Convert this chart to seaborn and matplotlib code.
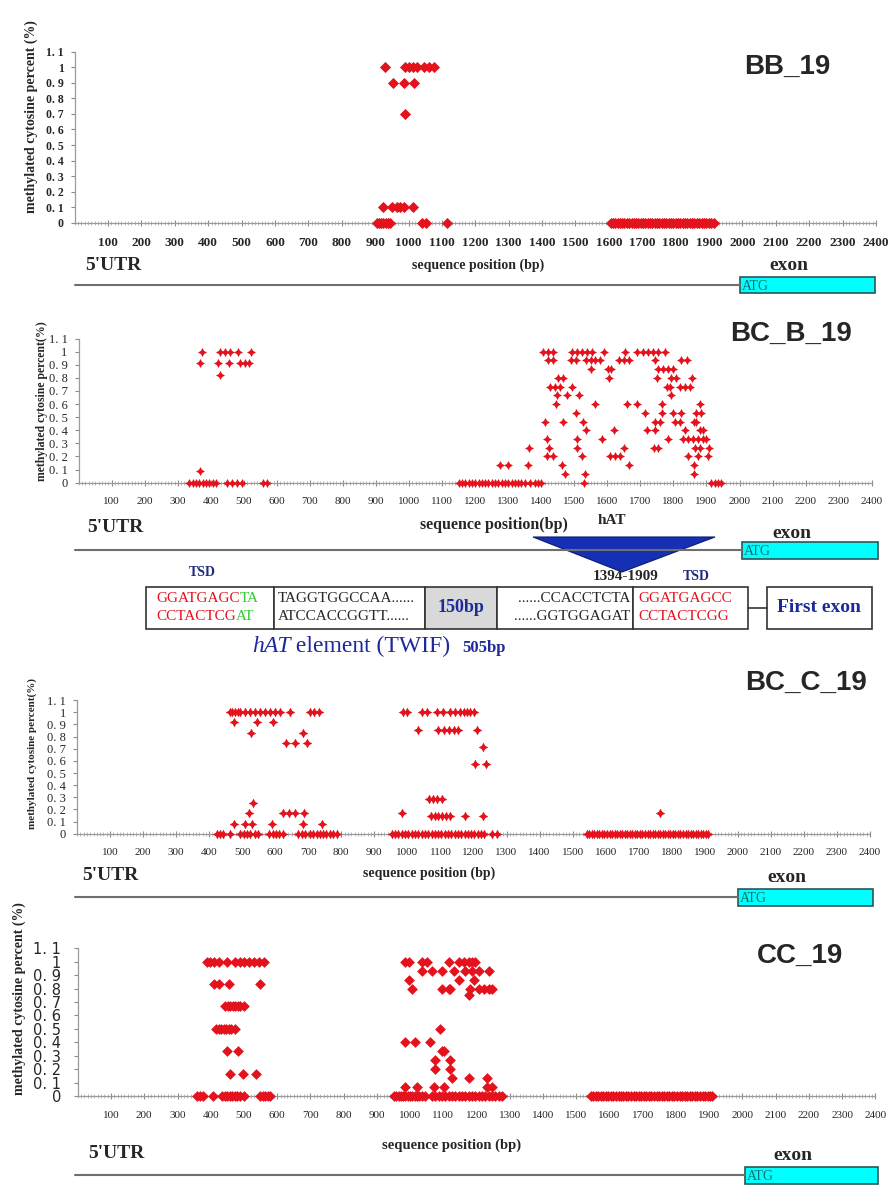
import matplotlib
matplotlib.use('Agg')
import matplotlib.pyplot as plt
from matplotlib.patches import Rectangle, Polygon
from matplotlib.ticker import MultipleLocator
import pandas as pd
import seaborn as sns

# methylation level -> CpG positions (bp)

bb19 = {
    1.0: [930, 990, 1000, 1012, 1025, 1045, 1060, 1075],
    0.9: [955, 985, 1015],
    0.7: [990],
    0.1: [924, 951, 966, 975, 985, 1012],
    0.0: [905, 912, 918, 925, 932, 940, 946, 1040, 1052, 1116,
          1605, 1611, 1619, 1626, 1632, 1640, 1646, 1653, 1660, 1668, 1674, 1681,
          1688, 1695, 1702, 1709, 1716, 1722, 1730, 1737, 1744, 1750, 1758, 1765,
          1771, 1779, 1786, 1792, 1800, 1807, 1814, 1821, 1828, 1835, 1842, 1849,
          1856, 1864, 1870, 1878, 1885, 1892, 1899, 1907, 1915],
}

bcb19 = {
    1.0: [372, 428, 443, 458, 483, 521,
          1406, 1419, 1434, 1494, 1509, 1524, 1539, 1554, 1589, 1654, 1689, 1709,
          1724, 1739, 1754, 1774],
    0.933: [1419, 1434, 1489, 1504, 1534, 1549, 1564, 1579, 1634, 1649, 1664, 1744,
            1822, 1842],
    0.91: [367, 423, 456, 488, 504, 514],
    0.867: [1551, 1601, 1612, 1754, 1769, 1784, 1799],
    0.82: [428],
    0.8: [1451, 1466, 1604, 1751, 1794, 1809, 1857],
    0.733: [1426, 1442, 1456, 1494, 1779, 1791, 1819, 1834, 1849],
    0.667: [1449, 1479, 1514, 1794],
    0.6: [1444, 1564, 1659, 1691, 1764, 1879],
    0.533: [1504, 1714, 1764, 1799, 1824, 1869, 1884],
    0.467: [1412, 1466, 1526, 1744, 1759, 1804, 1819, 1861, 1869],
    0.4: [1536, 1619, 1719, 1744, 1834, 1879, 1889],
    0.333: [1416, 1507, 1584, 1782, 1829, 1844, 1859, 1874, 1889, 1899],
    0.267: [1364, 1422, 1507, 1649, 1742, 1754, 1864, 1879, 1909],
    0.2: [1416, 1434, 1524, 1609, 1624, 1639, 1844, 1874, 1906],
    0.133: [1276, 1299, 1359, 1462, 1664, 1862],
    0.09: [367],
    0.067: [1472, 1531, 1862],
    0.0: [335, 345, 355, 365, 375, 385, 395, 405, 415, 448, 463, 478, 494, 559, 569,
          1150, 1160, 1170, 1180, 1190, 1200, 1210, 1220, 1230, 1240, 1250, 1260,
          1270, 1280, 1290, 1300, 1310, 1320, 1330, 1340, 1350, 1365, 1380, 1390,
          1400, 1530, 1915, 1925, 1935, 1945],
}

bcc19 = {
    1.0: [463, 470, 478, 486, 494, 509, 524, 539, 554, 569, 584, 599, 614, 645, 705,
          718, 731, 988, 998, 1043, 1058, 1089, 1109, 1129, 1144, 1159, 1170, 1180,
          1189, 1200],
    0.917: [476, 544, 592],
    0.857: [1033, 1094, 1110, 1125, 1140, 1154, 1210],
    0.833: [526, 683],
    0.75: [633, 660, 695],
    0.714: [1230],
    0.571: [1205, 1238],
    0.286: [1066, 1078, 1090, 1104],
    0.25: [532],
    0.167: [520, 623, 643, 660, 687, 983, 1765],
    0.143: [1070, 1082, 1094, 1106, 1118, 1130, 1175, 1228],
    0.083: [476, 507, 531, 589, 685, 741],
    0.0: [423, 433, 443, 463, 494, 504, 514, 524, 539, 549, 582, 592, 602, 612, 624,
          670, 680, 690, 705, 715, 725, 735, 745, 755, 766, 776, 786,
          953, 963, 973, 983, 993, 1003, 1013, 1023, 1033, 1043, 1053, 1063, 1073,
          1083, 1093, 1103, 1113, 1123, 1133, 1143, 1153, 1163, 1173, 1183, 1193,
          1203, 1213, 1223, 1233, 1255, 1270,
          1543, 1550, 1558, 1566, 1573, 1581, 1589, 1596, 1604, 1612, 1619, 1627,
          1635, 1642, 1650, 1658, 1665, 1673, 1681, 1688, 1696, 1704, 1711, 1719,
          1727, 1734, 1742, 1750, 1757, 1765, 1773, 1780, 1788, 1796, 1803, 1811,
          1819, 1826, 1834, 1842, 1849, 1857, 1865, 1872, 1880, 1888, 1895, 1903,
          1911],
}

cc19 = {
    1.0: [388, 398, 409, 424, 449, 474, 489, 500, 514, 529, 544, 559,
          986, 996, 1036, 1051, 1116, 1146, 1161, 1176, 1186, 1195],
    0.933: [1036, 1066, 1096, 1131, 1166, 1186, 1206, 1236],
    0.867: [996, 1146, 1191],
    0.833: [409, 424, 454, 549],
    0.8: [1006, 1096, 1116, 1121, 1181, 1206, 1221, 1236, 1246],
    0.75: [1176],
    0.667: [444, 452, 459, 466, 474, 481, 489, 499],
    0.5: [417, 424, 431, 439, 447, 454, 461, 474, 1091],
    0.4: [986, 1016, 1061],
    0.333: [449, 481, 1096, 1101],
    0.267: [1076, 1121],
    0.2: [1076, 1121],
    0.167: [457, 496, 537],
    0.133: [1126, 1176, 1231],
    0.067: [986, 1021, 1071, 1101, 1231, 1246],
    0.0: [358, 368, 378, 406, 434, 442, 449, 457, 464, 472, 479, 489, 499, 549, 557,
          564, 572, 579,
          951, 958, 965, 972, 979, 986, 993, 1000, 1007, 1014, 1021, 1028, 1035, 1046,
          1066, 1076, 1086, 1096, 1106, 1116, 1126, 1136, 1146, 1156, 1166, 1176,
          1186, 1196, 1206, 1216, 1226, 1236, 1246, 1256, 1266, 1276,
          1545, 1550, 1558, 1565, 1573, 1581, 1588, 1596, 1604, 1611, 1619, 1627,
          1634, 1642, 1650, 1657, 1665, 1673, 1680, 1688, 1696, 1703, 1711, 1719,
          1726, 1734, 1742, 1749, 1757, 1765, 1772, 1780, 1788, 1795, 1803, 1811,
          1818, 1826, 1834, 1841, 1849, 1857, 1864, 1872, 1880, 1887, 1895, 1903,
          1909],
}

samples = [bb19, bcb19, bcc19, cc19]
titles = ['BB_19', 'BC_B_19', 'BC_C_19', 'CC_19']
ylabels = ['methylated cytosine percent (%)', 'methylated cytosine percent(%)',
           'methylated cytosine percent(%)', 'methylated cytosine percent (%)']
xlabels = ['sequence position (bp)', 'sequence position(bp)',
           'sequence position (bp)', 'sequence position (bp)']
xticks = list(range(100, 2500, 100))
yticks = [0, 0.1, 0.2, 0.3, 0.4, 0.5, 0.6, 0.7, 0.8, 0.9, 1.0, 1.1]
ytick_labels = ['0', '0. 1', '0. 2', '0. 3', '0. 4', '0. 5', '0. 6', '0. 7',
                '0. 8', '0. 9', '1', '1. 1']

W, H = 891, 1185
sns.set_theme(style='white')
plt.rcParams['font.family'] = ['Liberation Serif', 'DejaVu Sans']

fig = plt.figure(figsize=(W / 100, H / 100), dpi=100)
fig.patch.set_facecolor('white')

# pixel boxes of the four plot areas: left(0 bp), right(2400 bp), top(1.1), bottom(0)
boxes = [(74.6, 876, 51.8, 222.7), (78.7, 871.7, 338.6, 482.7),
         (77, 870, 700.2, 833.7), (77.8, 875.4, 948.3, 1096)]
markers = ['D', (4, 1, 0), (4, 1, 0), 'D']
msizes = [32, 42, 48, 30]
xt_size = [9.5, 8, 8, 8]
xt_weight = ['bold', 'normal', 'normal', 'normal']
yt_size = [8.5, 9, 9, 10.5]
yl_size = [10, 8.5, 8, 10]
yl_pos = [(-0.046, 0.62), (-0.039, 0.567), (-0.050, 0.60), (-0.065, 0.657)]
xl_pos = [(0.503, -0.209), (0.524, -0.238), (0.444, -0.243), (0.469, -0.291)]
xl_size = [10, 11.5, 10, 10.5]
red = '#e3121c'

for i, d in enumerate(samples):
    l, r, t, b = boxes[i]
    ax = fig.add_axes([l / W, 1 - b / H, (r - l) / W, (b - t) / H])
    df = pd.DataFrame([(x, lvl) for lvl, xs in d.items() for x in xs],
                      columns=['pos', 'level'])
    sns.scatterplot(data=df, x='pos', y='level', ax=ax, color=red,
                    marker=markers[i], s=msizes[i], linewidth=0, clip_on=False,
                    zorder=3)
    ax.set_xlim(0, 2400)
    ax.set_ylim(0, 1.1)
    ax.patch.set_alpha(0)
    sns.despine(ax=ax)
    ax.spines['left'].set_color('#9a9a9a')
    ax.spines['bottom'].set_color('#9a9a9a')
    ax.spines['left'].set_linewidth(0.9)
    ax.spines['bottom'].set_linewidth(0.9)
    ax.set_xticks(xticks)
    ax.set_xticklabels([str(v) for v in xticks], fontsize=xt_size[i],
                       fontweight=xt_weight[i])
    ax.xaxis.set_minor_locator(MultipleLocator(10))
    ax.set_yticks(yticks)
    ax.set_yticklabels(ytick_labels, fontsize=yt_size[i],
                       fontweight='bold' if i == 0 else 'normal',
                       family='DejaVu Sans' if i == 3 else 'Liberation Serif')
    ax.tick_params(axis='x', which='major', direction='inout', length=5, width=0.8,
                   color='#8a8a8a', pad=8, bottom=True)
    ax.tick_params(axis='x', which='minor', direction='inout', length=2.5,
                   width=0.5, color='#a0a0a0', bottom=True)
    ax.tick_params(axis='y', direction='out', length=3, width=0.8, color='#8a8a8a',
                   pad=5 if i < 3 else 9, left=True)
    ax.set_ylabel(ylabels[i], fontsize=yl_size[i], fontweight='bold')
    ax.yaxis.set_label_coords(*yl_pos[i])
    ax.set_xlabel(xlabels[i], fontsize=xl_size[i], fontweight='bold')
    ax.xaxis.set_label_coords(*xl_pos[i])

# overlay in pixel coordinates for titles and gene tracks
ov = fig.add_axes([0, 0, 1, 1])
ov.set_xlim(0, W)
ov.set_ylim(H, 0)
ov.axis('off')

title_xy = [(787, 67), (791, 334), (806, 683), (800, 956)]
for (x, y), ttl in zip(title_xy, titles):
    ov.text(x, y, ttl, ha='center', va='center', fontsize=20, fontweight='bold',
            family='Liberation Sans')

utr_xy = [(85, 265), (87, 528), (82, 876), (88, 1154)]
exon_xy = [(789, 265), (792, 533), (787, 878), (793, 1155)]
line_y = [285, 550, 897, 1175]
exon_box = [(740, 875, 277, 293), (742, 878, 542, 559), (738, 873, 889, 906),
            (745, 878, 1167, 1184)]
for i in range(4):
    ov.text(*utr_xy[i], "5'UTR", ha='left', va='center', fontsize=14,
            fontweight='bold')
    ov.text(*exon_xy[i], 'exon', ha='center', va='center', fontsize=14,
            fontweight='bold')
    x0, x1, y0, y1 = exon_box[i]
    ov.plot([75, x0], [line_y[i], line_y[i]], color='#6e6e6e', lw=1.5)
    ov.add_patch(Rectangle((x0, y0), x1 - x0, y1 - y0, facecolor='#00ffff',
                           edgecolor='#2e5555', lw=1.2))
    ov.text(x0 + 2, (y0 + y1) / 2 + 1, 'ATG', ha='left', va='center', fontsize=10,
            color='#156d6d')

# hAT insertion
ov.text(612, 521, 'hAT', ha='center', va='center', fontsize=11, fontweight='bold')
ov.add_patch(Polygon([(533, 537), (715, 537), (622, 572)], closed=True,
                     facecolor='#1530b5', edgecolor='#0c1a70', lw=0.8))

renderer = fig.canvas.get_renderer()


def runs(x, y, parts, **kw):
    for txt, props in parts:
        t = ov.text(x, y, txt, ha='left', va='center', **kw, **props)
        bb = t.get_window_extent(renderer=renderer)
        x = ov.transData.inverted().transform((bb.x1, bb.y0))[0]


navy = '#1f2a7e'
blue = '#1c2a9c'
green = '#33cc33'
ov.text(202, 573, 'TSD', ha='center', va='center', fontsize=10, fontweight='bold',
        color=navy)
ov.text(626, 577, '1394-1909', ha='center', va='center', fontsize=11,
        fontweight='bold')
ov.text(696, 577, 'TSD', ha='center', va='center', fontsize=10, fontweight='bold',
        color=navy)

seg_x = [(146, 274, 'white'), (274, 425, 'white'), (425, 497, '#d9d9d9'),
         (497, 633, 'white'), (633, 748, 'white'), (767, 872, 'white')]
for x0, x1, fc in seg_x:
    ov.add_patch(Rectangle((x0, 587), x1 - x0, 42, facecolor=fc,
                           edgecolor='#333333', lw=1.2))
ov.plot([748, 767], [608, 608], color='#333333', lw=1.2)

row1, row2 = 598, 617
runs(156, row1, [('GGATGAGC', {'color': red}), ('TA', {'color': green})], fontsize=11)
runs(156, row2, [('CCTACTCG', {'color': red}), ('AT', {'color': green})], fontsize=11)
ov.text(278, row1, 'TAGGTGGCCAA......', ha='left', va='center', fontsize=11)
ov.text(278, row2, 'ATCCACCGGTT......', ha='left', va='center', fontsize=11)
ov.text(461, 608, '150bp', ha='center', va='center', fontsize=13, fontweight='bold',
        color=blue)
ov.text(630, row1, '......CCACCTCTA', ha='right', va='center', fontsize=11)
ov.text(630, row2, '......GGTGGAGAT', ha='right', va='center', fontsize=11)
ov.text(638, row1, 'GGATGAGCC', ha='left', va='center', fontsize=11, color=red)
ov.text(638, row2, 'CCTACTCGG', ha='left', va='center', fontsize=11, color=red)
ov.text(819, 608, 'First exon', ha='center', va='center', fontsize=14,
        fontweight='bold', color=blue)

runs(252, 646, [('hAT', {'fontstyle': 'italic'}), (' element (TWIF)', {})],
     fontsize=17, color=blue)
ov.text(462, 648, '505bp', ha='left', va='center', fontsize=12, fontweight='bold',
        color=blue)

fig.savefig('out.png', dpi=100, facecolor='white')
